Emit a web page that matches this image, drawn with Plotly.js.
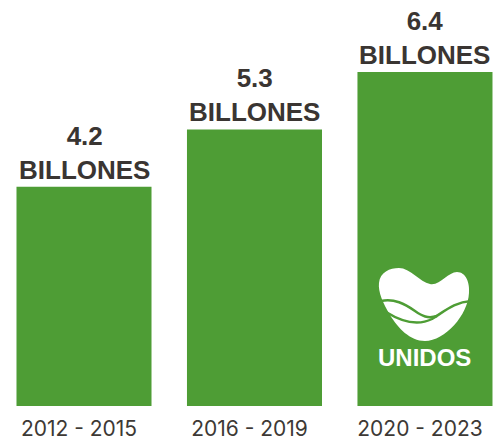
<!DOCTYPE html>
<html>
<head>
<meta charset="utf-8">
<script src="https://cdn.plot.ly/plotly-3.0.1.min.js"></script>
<style>html,body{margin:0;padding:0;background:#fff;}#chart{width:493px;height:440px;}</style>
</head>
<body>
<div id="chart"></div>
<script>
// Data
const periods = ["2012 - 2015", "2016 - 2019", "2020 - 2023"];
const amounts = [4.2, 5.3, 6.4];
const unitLabel = "BILLONES";
const logoText = "UNIDOS";

const GREEN = "#4e9d35";
const DARK = "#3a3532";

// Decorative logo drawn in pixel units relative to the third bar's base
const AX = 425, AY = 406;
function P(x, y) { return (x - AX).toFixed(1) + "," + (AY - y).toFixed(1); }
const heartPath =
  "M" + P(399,268) +
  " C" + P(410,268) + " " + P(420,282) + " " + P(430,284) +
  " C" + P(440,286) + " " + P(448,272) + " " + P(457,272) +
  " C" + P(466,272) + " " + P(470,283) + " " + P(469,293) +
  " C" + P(468,315) + " " + P(445,341) + " " + P(425,341) +
  " C" + P(410,341) + " " + P(398,328) + " " + P(390,315) +
  " C" + P(383,303) + " " + P(378,292) + " " + P(379,283) +
  " C" + P(380,272) + " " + P(390,268) + " " + P(399,268) + " Z";
const waveA =
  "M" + P(381,301) +
  " C" + P(394,298) + " " + P(405,304) + " " + P(415,311) +
  " C" + P(422,316) + " " + P(428,319) + " " + P(437,316);
const waveB =
  "M" + P(386,312) +
  " C" + P(402,322) + " " + P(418,326) + " " + P(432,319) +
  " C" + P(445,311) + " " + P(455,302) + " " + P(471,301);

const logoShape = (path, fill, lw) => ({
  type: "path", xref: "x", yref: "y", xsizemode: "pixel", ysizemode: "pixel",
  xanchor: 2, yanchor: 0, path: path,
  fillcolor: fill, line: {color: GREEN, width: lw}, layer: "above"
});

const trace = {
  type: "bar",
  x: [0, 1, 2],
  y: amounts,
  marker: {color: GREEN, line: {width: 0}},
  hoverinfo: "skip"
};

const annotations = amounts.map((v, i) => ({
  x: i, y: v, xref: "x", yref: "y",
  text: v.toFixed(1) + "<br>" + unitLabel,
  showarrow: false, xanchor: "center", yanchor: "bottom", yshift: 0,
  font: {family: "Liberation Sans, Arial, sans-serif", size: 26, color: DARK, weight: 700}
}));
annotations.push({
  x: 2, y: 0, xref: "x", yref: "y",
  text: "<b>" + logoText + "</b>",
  showarrow: false, xanchor: "center", yanchor: "bottom", yshift: 33,
  font: {family: "Liberation Sans, Arial, sans-serif", size: 24, color: "#ffffff"}
});

const layout = {
  width: 493, height: 440,
  margin: {l: 0, r: 0, t: 72, b: 34, pad: 0},
  paper_bgcolor: "#ffffff", plot_bgcolor: "#ffffff",
  showlegend: false,
  bargap: 0.208,
  xaxis: {
    range: [-0.4927, 2.399],
    tickmode: "array", tickvals: [0, 1, 2], ticktext: periods,
    ticks: "", showline: false, showgrid: false, zeroline: false,
    ticklabelshift: -5,
    ticklabelstandoff: 8,
    tickfont: {family: "Inter, sans-serif", size: 21, color: "#3d3935"},
    fixedrange: true
  },
  yaxis: {range: [0, 6.4], visible: false, showgrid: false, zeroline: false, fixedrange: true},
  annotations: annotations,
  shapes: [
    logoShape(heartPath, "#ffffff", 0),
    logoShape(waveA, "rgba(0,0,0,0)", 2.5),
    logoShape(waveB, "rgba(0,0,0,0)", 2.5)
  ]
};

Plotly.newPlot("chart", [trace], layout, {displayModeBar: false, staticPlot: true});
</script>
</body>
</html>
